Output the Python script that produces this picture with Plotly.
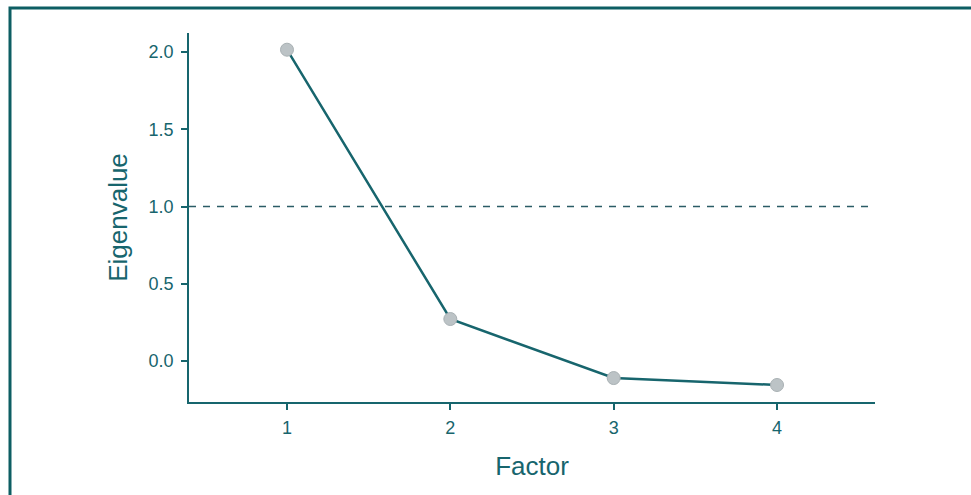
import plotly.graph_objects as go

factors = [1, 2, 3, 4]
eigenvalues = [2.015, 0.272, -0.11, -0.155]
threshold = 1.0
y_ticks = [0.0, 0.5, 1.0, 1.5, 2.0]
y_tick_labels = ["0.0", "0.5", "1.0", "1.5", "2.0"]

TEAL = "#17656d"
FONT = "Liberation Sans, Arial, Helvetica, sans-serif"

W, H = 971, 495
ML, MR, MT, MB = 189, 96, 33, 93
pw = W - ML - MR
ph = H - MT - MB

fig = go.Figure()
fig.add_trace(go.Scatter(
    x=factors, y=eigenvalues, mode="lines+markers",
    line=dict(color=TEAL, width=2.5),
    marker=dict(size=13, color="#bcc3c6", line=dict(color="#a9b1b4", width=1)),
    showlegend=False, hoverinfo="x+y",
))

fig.add_shape(type="line", xref="paper", yref="y", x0=0, x1=1,
              y0=threshold, y1=threshold,
              line=dict(color="#2b5c66", width=1.5, dash="7px,7px"), layer="below")

# outer frame (extends beyond the visible page on right and bottom)
fig.add_shape(type="rect", xref="paper", yref="paper",
              x0=(10 - ML) / pw, x1=(W + 20 - ML) / pw,
              y0=-(H + 20 - MT - ph) / ph, y1=(H - MB - 8) / ph,
              line=dict(color="#0d5e63", width=3), fillcolor="rgba(0,0,0,0)")

fig.update_layout(
    width=W, height=H,
    margin=dict(l=ML, r=MR, t=MT, b=MB),
    paper_bgcolor="white", plot_bgcolor="white",
    font=dict(family=FONT, color=TEAL, size=18),
    xaxis=dict(
        range=[0.4, 4.6], tickvals=factors, ticktext=[str(f) for f in factors],
        showgrid=False, zeroline=False, showline=True, linecolor=TEAL, linewidth=1.5,
        ticks="outside", ticklen=6, tickwidth=2, tickcolor=TEAL,
        tickfont=dict(size=18, color=TEAL), ticklabelstandoff=3,
        title=dict(text="Factor", font=dict(size=26, color=TEAL), standoff=19),
    ),
    yaxis=dict(
        range=[-0.265, 2.123], tickvals=y_ticks, ticktext=y_tick_labels,
        showgrid=False, zeroline=False, showline=True, linecolor=TEAL, linewidth=1.5,
        ticks="outside", ticklen=6, tickwidth=2, tickcolor=TEAL,
        tickfont=dict(size=18, color=TEAL), ticklabelstandoff=4,
        title=dict(text="Eigenvalue", font=dict(size=26, color=TEAL), standoff=14),
    ),
)

fig.write_html("out.html")
